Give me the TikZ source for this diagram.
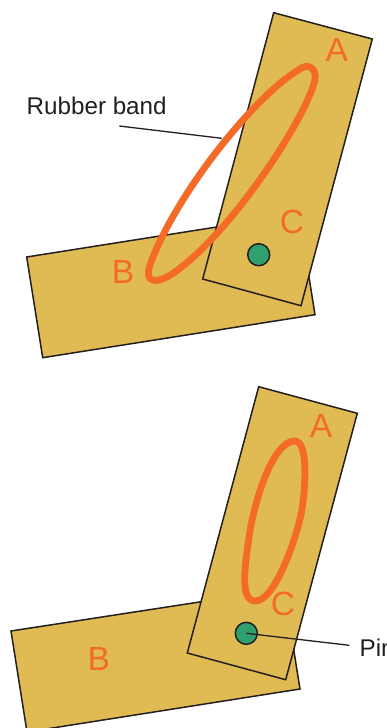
\documentclass[tikz,border=0pt]{standalone}
\usepackage{fontspec}
\setmainfont{Liberation Sans}
\tikzset{
  plate/.style={draw=inkc,fill=platec,line width=1.5pt,line join=miter},
  pinmark/.style={circle,draw=inkc,fill=pinc,line width=1.5pt,minimum size=22pt,inner sep=0pt},
  band/.style={draw=bandc,line width=6.8pt},
  letter/.style={text=bandc,font=\fontsize{33.5}{34}\selectfont,inner sep=0pt},
  caption/.style={text=inkc,font=\fontsize{24.2}{25}\selectfont,inner sep=0pt},
  leader/.style={draw=inkc,line width=1.3pt}
}
\definecolor{inkc}{HTML}{231F20}
\definecolor{platec}{HTML}{E0BB54}
\definecolor{bandc}{HTML}{F36B26}
\definecolor{pinc}{HTML}{2FA06E}
\begin{document}
\begin{tikzpicture}[x=1pt,y=-1pt]
\useasboundingbox (0,0) rectangle (386,728);
\clip (0,0) rectangle (386,728);
% top figure
\draw[plate] (26.7,257) -- (299,214) -- (315,314.7) -- (42.7,357.7) -- cycle;
\draw[plate] (273.7,12.7) -- (372.3,39) -- (301,305.7) -- (202.7,279) -- cycle;
\node[pinmark] (pin1) at (258.7,254.7) {};
\draw[band] (300,69) .. controls (255,95) and (175,195) .. (150,265)
  .. controls (144,282) and (155,285) .. (172,274)
  .. controls (230,235) and (305,120) .. (315,80)
  .. controls (317,66) and (306,64) .. (300,69) -- cycle;
\node[letter] (a1) at (336.7,50) {A};
\node[letter] (c1) at (292,222) {C};
\node[letter] (b1) at (123,272) {B};
\node[caption] (rb) at (96.7,105.7) {Rubber band};
\coordinate (rbs) at (119.3,126);
\coordinate (rbe) at (221.7,138.3);
\draw[leader] (rbs) -- (rbe);
% bottom figure
\draw[plate] (11,631) -- (284,589) -- (300,689) -- (27,732) -- cycle;
\draw[plate] (258.7,386.7) -- (357.3,413.3) -- (285.7,679.7) -- (187.3,653) -- cycle;
\node[pinmark] (pin2) at (246.3,633.3) {};
\draw[band] (294.7,441) .. controls (308,441) and (306,485) .. (301.7,510.7)
  .. controls (297,537) and (275,601) .. (255.5,601)
  .. controls (240,601) and (244,570) .. (250,531)
  .. controls (254,505) and (272,441) .. (294.7,441) -- cycle;
\node[letter] (a2) at (321,426) {A};
\node[letter] (c2) at (283,604) {C};
\node[letter] (b2) at (98.7,659) {B};
\node[caption,anchor=west] (pt) at (359.5,648) {Pin};
\coordinate (pe) at (349.3,645.3);
\draw[leader] (pin2.center) -- (pe);
\end{tikzpicture}
\end{document}
